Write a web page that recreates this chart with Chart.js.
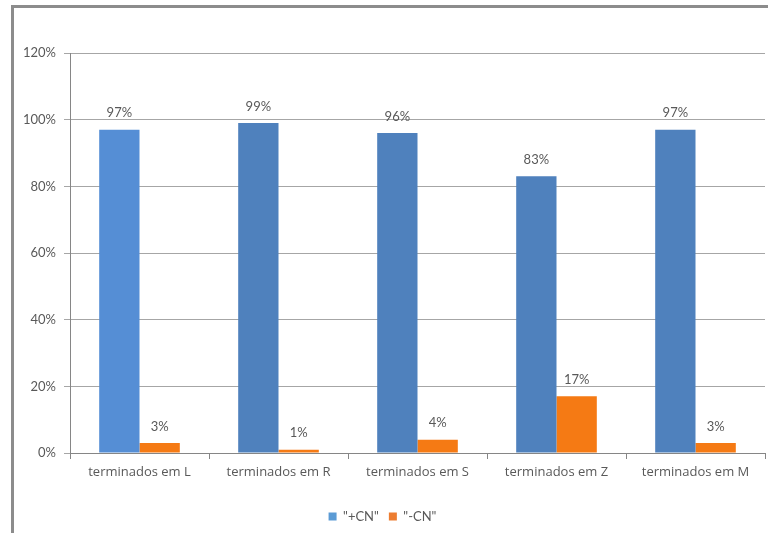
<!DOCTYPE html>
<html>
<head>
<meta charset="utf-8">
<script src="https://cdn.jsdelivr.net/npm/chart.js@4/dist/chart.umd.min.js"></script>
<style>
html,body{margin:0;padding:0;background:#fff;}
#wrap{position:relative;width:768px;height:533px;overflow:hidden;}
#c{position:absolute;left:0;top:0;}
.bl{position:absolute;left:11px;top:5px;width:3px;height:528px;background:#8c8c8c;}
.bt{position:absolute;left:11px;top:5px;width:757px;height:3px;background:#8c8c8c;}
</style>
</head>
<body>
<div id="wrap">
<canvas id="c" width="768" height="533"></canvas>
<div class="bl"></div><div class="bt"></div>
</div>
<script>
const categories = ["terminados em L","terminados em R","terminados em S","terminados em Z","terminados em M"];
const plusCN = [97, 99, 96, 83, 97];
const minusCN = [3, 1, 4, 17, 3];
const seriesNames = ['"+CN"', '"-CN"'];
const yTicks = [0, 20, 40, 60, 80, 100, 120];

const blue = '#4F81BD', blueFirst = '#558ED5', orange = '#F57A14';
const legendColors = ['#5B9BD5', '#ED7D31'];
const FONT = 'Lato, "Open Sans", sans-serif';
const FONT2 = '"Open Sans", Lato, sans-serif';

const labelPlugin = {
  id: 'vlabels',
  afterDatasetsDraw(chart) {
    const ctx = chart.ctx;
    ctx.save();
    ctx.font = '13px ' + FONT;
    ctx.fillStyle = '#595959';
    ctx.textAlign = 'center';
    ctx.textBaseline = 'bottom';
    chart.data.datasets.forEach((ds, di) => {
      chart.getDatasetMeta(di).data.forEach((el, i) => {
        ctx.fillText(ds.data[i] + '%', el.x, el.y - 10);
      });
    });
    ctx.restore();
  }
};

new Chart(document.getElementById('c'), {
  type: 'bar',
  data: {
    labels: categories,
    datasets: [
      { label: seriesNames[0], data: plusCN,
        backgroundColor: plusCN.map((v, i) => i === 0 ? blueFirst : blue),
        categoryPercentage: 0.58, barPercentage: 1.0 },
      { label: seriesNames[1], data: minusCN, backgroundColor: orange,
        categoryPercentage: 0.58, barPercentage: 1.0 }
    ]
  },
  options: {
    responsive: false,
    animation: false,
    devicePixelRatio: 1,
    layout: { padding: { top: 53, left: 0, right: 3, bottom: 0 } },
    plugins: {
      tooltip: { enabled: false },
      legend: {
        position: 'bottom',
        labels: {
          font: { family: FONT, size: 13 },
          color: '#595959',
          boxWidth: 8, boxHeight: 8,
          padding: 10,
          generateLabels(chart) {
            return chart.data.datasets.map((ds, i) => ({
              text: ds.label, fillStyle: legendColors[i], strokeStyle: legendColors[i],
              lineWidth: 0, hidden: false, datasetIndex: i, fontColor: '#595959'
            }));
          }
        }
      }
    },
    scales: {
      x: {
        grid: { display: true, drawOnChartArea: false, drawTicks: true, tickLength: 6, offset: true, color: '#868686' },
        border: { display: true, color: '#868686' },
        ticks: { font: { family: FONT2, size: 13 }, color: '#595959', padding: 5, maxRotation: 0 },
        afterFit(s) { s.height = 47; }
      },
      y: {
        min: 0, max: 120,
        afterBuildTicks(s) { s.ticks = yTicks.map(v => ({ value: v })); },
        grid: { color: '#A6A6A6', drawTicks: true, tickLength: 6 },
        border: { display: true, color: '#868686' },
        ticks: { font: { family: FONT, size: 13 }, color: '#595959', padding: 8, callback: v => v + '%' },
        afterFit(s) { s.width = 70; }
      }
    }
  },
  plugins: [labelPlugin]
});
</script>
</body>
</html>
